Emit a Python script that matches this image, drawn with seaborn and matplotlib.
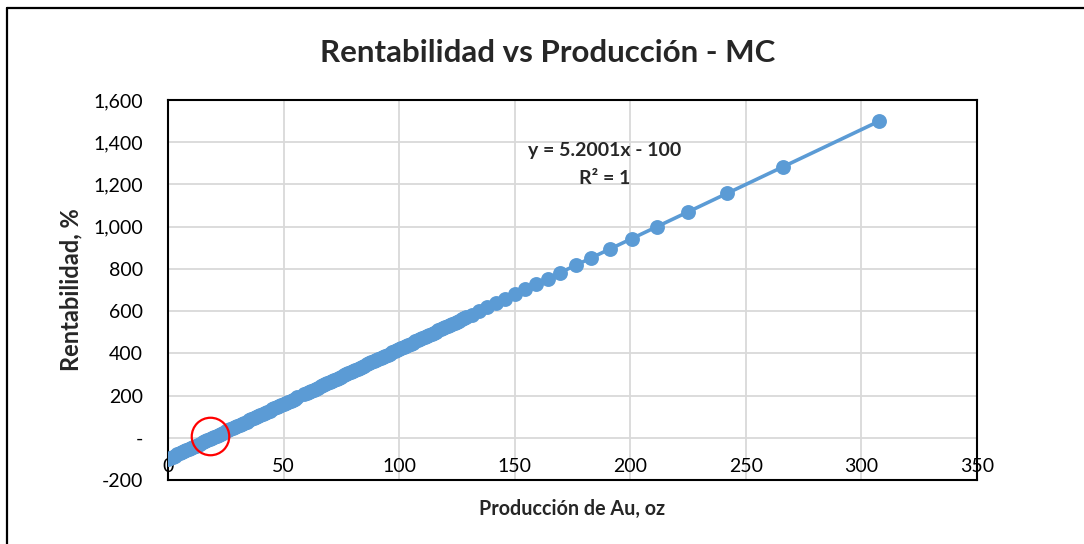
import matplotlib
matplotlib.use("Agg")
import matplotlib.pyplot as plt
import seaborn as sns
import pandas as pd
from matplotlib.lines import Line2D

# ---- data ----
produccion = [
    0, 1, 2, 3, 4, 5, 6, 7, 8, 9,
    10, 11, 12, 13, 14, 15, 16, 17, 18, 19,
    20, 21, 22, 23, 24, 25, 26, 27, 28, 29,
    30, 31, 32, 33, 34, 35, 36, 37, 38, 39,
    40, 41, 42, 43, 44, 45, 46, 47, 48, 49,
    50, 51, 52, 53, 54, 55, 56,
    59, 60, 61, 62, 63, 64, 65, 66, 67, 68, 69,
    70, 71, 72, 73, 74, 75, 76, 77, 78, 79,
    80, 81, 82, 83, 84, 85, 86, 87, 88, 89,
    90, 91, 92, 93, 94, 95, 96, 97, 98, 99,
    100, 101, 102, 103, 104, 105, 106, 107, 108, 109,
    110, 111, 112, 113, 114, 115, 116, 117, 118, 119,
    120, 121, 122, 123, 124, 125, 126, 127, 128, 129,
    131.5, 134.7, 138, 142, 146, 150, 154.3, 159, 164.3, 169.7,
    176.4, 183.1, 191.3, 200.7, 211.5, 224.8, 241.8, 265.9, 307.7,
]
rentabilidad = [
    -100, -94.8, -89.6, -84.4, -79.2, -74, -68.8, -63.6, -58.4, -53.2,
    -48, -42.8, -37.6, -32.4, -27.2, -22, -16.8, -11.6, -6.4, -1.2,
    4, 9.2, 14.4, 19.6, 24.8, 30, 35.2, 40.4, 45.6, 50.8,
    56, 61.2, 66.4, 71.6, 76.8, 82, 87.2, 92.4, 97.6, 102.8,
    108, 113.2, 118.4, 123.6, 128.8, 134, 139.2, 144.4, 149.6, 154.8,
    160, 165.2, 170.4, 175.6, 180.8, 186, 191.2,
    206.8, 212, 217.2, 222.4, 227.6, 232.8, 238, 243.2, 248.4, 253.6, 258.8,
    264, 269.2, 274.4, 279.6, 284.8, 290, 295.2, 300.4, 305.6, 310.8,
    316, 321.2, 326.4, 331.6, 336.8, 342, 347.2, 352.4, 357.6, 362.8,
    368, 373.2, 378.4, 383.6, 388.8, 394, 399.2, 404.4, 409.6, 414.8,
    420, 425.2, 430.4, 435.6, 440.8, 446, 451.2, 456.4, 461.6, 466.8,
    472, 477.2, 482.4, 487.6, 492.8, 498, 503.2, 508.4, 513.6, 518.8,
    524, 529.2, 534.4, 539.6, 544.8, 550, 555.2, 560.4, 565.6, 570.8,
    583.8, 600.4, 617.6, 638.4, 659.2, 680, 702.4, 726.8, 754.4, 782.4,
    817.3, 852.1, 894.8, 943.6, 999.8, 1069, 1157.4, 1282.7, 1500,
]
x_ticks = [0, 50, 100, 150, 200, 250, 300, 350]
y_ticks = [-200, 0, 200, 400, 600, 800, 1000, 1200, 1400, 1600]
y_tick_labels = ["-200", "-", "200", "400", "600", "800", "1,000", "1,200", "1,400", "1,600"]
punto_equilibrio = (18.2, 8)

title = "Rentabilidad vs Producción - MC"
xlabel = "Producción de Au, oz"
ylabel = "Rentabilidad, %"
eq_text = "y = 5.2001x - 100"
r2_text = "R² = 1"

df = pd.DataFrame({"produccion": produccion, "rentabilidad": rentabilidad})

sns.set_style("white")
plt.rcParams["font.family"] = ["Lato", "DejaVu Sans"]

blue = "#5B9BD5"
fig = plt.figure(figsize=(10.84, 5.44), dpi=100)
ax = fig.add_axes([168 / 1084, 64 / 544, (977 - 168) / 1084, 380 / 544])

sns.regplot(data=df, x="produccion", y="rentabilidad", ci=None, ax=ax,
            color=blue,
            scatter_kws=dict(s=115, alpha=1, linewidths=0, zorder=3),
            line_kws=dict(lw=2.6, zorder=2))

ax.set_xlim(0, 350)
ax.set_ylim(-200, 1600)
ax.set_xticks(x_ticks)
ax.set_yticks(y_ticks)
ax.set_yticklabels(y_tick_labels)
ax.grid(True, color="#D9D9D9", lw=1.3)
ax.set_axisbelow(True)
for sp in ax.spines.values():
    sp.set_visible(True)
    sp.set_color("black")
    sp.set_linewidth(1.5)

ax.tick_params(axis="both", length=0, labelsize=14, colors="black")
ax.tick_params(axis="y", pad=18)
ax.tick_params(axis="x", pad=-16)

ax.set_xlabel(xlabel, fontsize=14.2, fontweight="bold")
ax.set_ylabel(ylabel, fontsize=17, fontweight="bold")
ax.xaxis.set_label_coords(0.5, -0.05)
ax.yaxis.set_label_coords(-0.106, 0.5)

fig.text(548 / 1084, 1 - 53 / 544, title, ha="center", va="center",
         fontsize=22.5, fontweight="bold")

ax.text(189, 1363, eq_text, ha="center", va="center", fontsize=14, fontweight="bold")
ax.text(189, 1230, r2_text, ha="center", va="center", fontsize=14, fontweight="bold")

# red circle annotation around break-even point
ax.plot([punto_equilibrio[0]], [punto_equilibrio[1]], marker="o", ms=27,
        mfc="none", mec="red", mew=1.6, zorder=5, clip_on=False)

# outer chart frame (top and left edges visible)
fig.add_artist(Line2D([7 / 1084, 1.0], [1 - 8 / 544, 1 - 8 / 544],
                      transform=fig.transFigure, color="black", lw=1.6))
fig.add_artist(Line2D([7 / 1084, 7 / 1084], [0, 1 - 8 / 544],
                      transform=fig.transFigure, color="black", lw=1.6))

fig.savefig("out.png", dpi=100)
